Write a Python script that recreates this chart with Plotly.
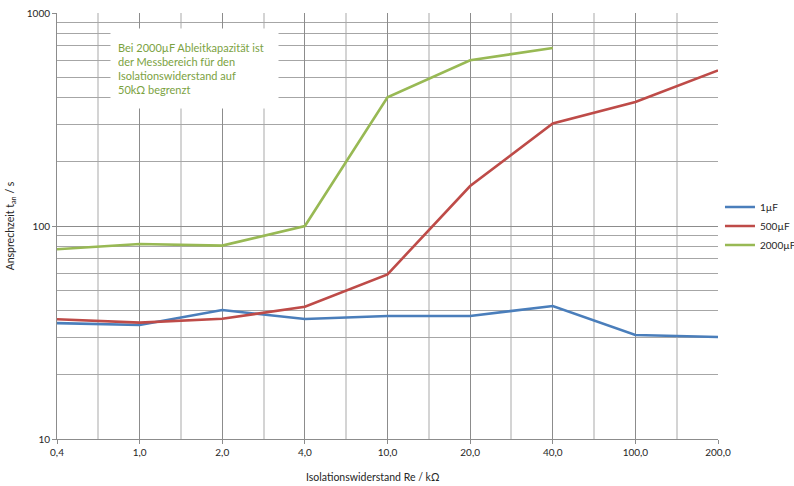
import plotly.graph_objects as go

categories = ["0,4", "1,0", "2,0", "4,0", "10,0", "20,0", "40,0", "100,0", "200,0"]
s_1uF = [35.0, 34.3, 40.3, 36.6, 37.8, 37.8, 42.1, 30.8, 30.1]
s_500uF = [36.5, 35.2, 36.7, 41.8, 59.3, 154, 303, 382, 538]
s_2000uF = [77.8, 82.3, 80.9, 100, 402, 600, 685]

series = [
    ("1µF", s_1uF, "#4A7EBB"),
    ("500µF", s_500uF, "#BE4B48"),
    ("2000µF", s_2000uF, "#98B954"),
]

FONT = "Lato, Liberation Sans, sans-serif"
x_idx = list(range(len(categories)))

W, H = 794, 486
L, T = 57, 13
PW, PH = 661, 426
R = W - L - PW
B = H - T - PH

fig = go.Figure()
for name, vals, col in series:
    fig.add_trace(go.Scatter(
        x=x_idx[:len(vals)], y=vals, name=name, mode="lines",
        line=dict(color=col, width=2.6),
    ))

fig.update_layout(
    width=W, height=H,
    margin=dict(l=L, r=R, t=T, b=B, autoexpand=False),
    paper_bgcolor="white", plot_bgcolor="white",
    font=dict(family=FONT, size=10, color="#262626"),
    showlegend=True,
    legend=dict(x=1.003, xanchor="left", y=0.5, yanchor="middle",
                font=dict(size=10, color="#262626"), tracegroupgap=0,
                itemwidth=30),
    annotations=[
        dict(text="Bei 2000µF Ableitkapazität ist<br>der Messbereich für den<br>Isolationswiderstand auf<br>50kΩ begrenzt",
             xref="paper", yref="paper", x=53 / PW, y=(426 - 15) / PH,
             xanchor="left", yanchor="top", align="left", valign="middle",
             showarrow=False, bgcolor="white", borderpad=7, width=153, height=65,
             font=dict(size=11, color="#7BA23F", family=FONT)),
        dict(text="Isolationswiderstand Re / kΩ", xref="paper", yref="paper",
             x=(372 - 57) / PW, y=-(477 - 439) / PH, xanchor="center", yanchor="middle",
             showarrow=False, font=dict(size=10.5, color="#262626", family=FONT)),
    ],
)

fig.update_xaxes(
    range=[0, len(categories) - 1], automargin=False,
    tickmode="array", tickvals=x_idx, ticktext=categories,
    showgrid=True, gridcolor="#8C8C8C", gridwidth=1,
    showline=True, linecolor="#8C8C8C", linewidth=1,
    ticks="outside", ticklen=4, tickcolor="#8C8C8C",
    tickfont=dict(size=10, color="#262626"),
    minor=dict(tickmode="linear", tick0=0.5, dtick=1, showgrid=True,
               gridcolor="#D4D4D4", gridwidth=1.5),
    zeroline=False, fixedrange=True,
)
fig.update_yaxes(
    type="log", range=[1, 3], automargin=False,
    tickmode="array", tickvals=[10, 100, 1000], ticktext=["10", "100", "1000"],
    ticklabeloverflow="allow",
    showgrid=True, gridcolor="#8C8C8C", gridwidth=1,
    showline=True, linecolor="#8C8C8C", linewidth=1,
    ticks="outside", ticklen=4, tickcolor="#8C8C8C",
    tickfont=dict(size=10, color="#262626"),
    minor=dict(dtick="D1", showgrid=True, gridcolor="#A6A6A6", gridwidth=1),
    title=dict(text="Ansprechzeit t<sub>an</sub> / s", font=dict(size=10.5, color="#262626"),
               standoff=10),
    zeroline=False,
)

fig.write_html("out.html", config={"displayModeBar": False},
               post_script="document.body.style.margin='0px';document.body.style.overflow='hidden';")
